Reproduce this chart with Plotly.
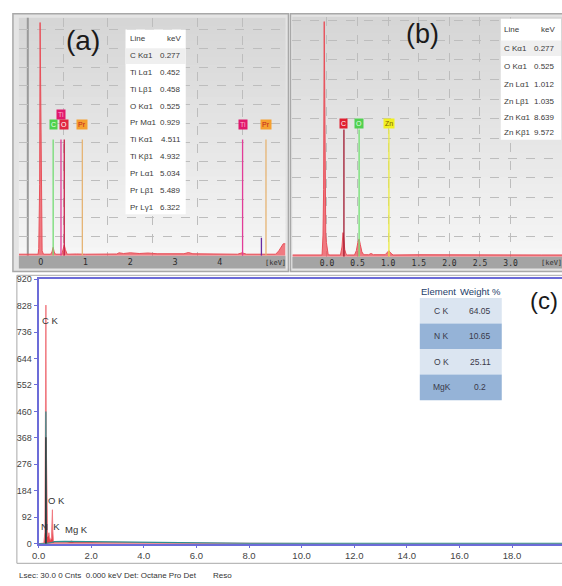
import plotly.graph_objects as go

W, H = 562, 586
def px(x): return x / W
def py(y): return 1 - y / H

# ---------------- Panel (a) data ----------------
a_kev = [-0.49, -0.06, -0.045, -0.035, -0.025, -0.015, -0.005, 0.005, 0.015, 0.03, 0.06,
         0.22, 0.25, 0.277, 0.30, 0.33, 0.47, 0.50, 0.525, 0.55, 0.59, 0.8, 1.0, 1.7, 1.75,
         1.85, 2.0, 2.2, 2.4, 2.6, 2.9, 3.2, 3.3, 3.4, 4.4, 4.5, 4.6, 5.25, 5.32, 5.38, 5.42, 5.47]
a_counts = [0.6, 0.6, 3, 28, 30, 98, 70, 30, 10, 2, 0.6,
            0.6, 1.5, 3.5, 1.5, 0.6, 0.6, 2.5, 4.5, 2.5, 0.6, 0.7, 0.6, 0.7, 1.2,
            0.9, 1.2, 0.9, 1.1, 0.8, 0.7, 0.8, 1.3, 0.8, 0.6, 1.2, 0.6, 0.6, 2.0, 4.0, 5.0, 5.0]
a_marker_kev = [0.277, 0.452, 0.525, 0.929, 4.511, 4.932, 5.034]
a_marker_top = [48.8, 48.8, 48.8, 48.8, 48.8, 7.5, 48.8]
a_marker_color = ["#74dc74", "#e23c98", "#c8204a", "#e6b474", "#e23c98", "#6a2aa0", "#e6b474"]
a_label_text = ["C", "Ti", "O", "Pr", "Ti", "Pr"]
a_label_kev = [0.277, 0.452, 0.525, 0.929, 4.511, 5.034]
a_label_y = [55, 59.5, 55, 55, 55, 55]
a_label_bg = ["#4fd14f", "#e0186c", "#e02840", "#f5a030", "#e0186c", "#f5a030"]
a_label_fg = ["#e8ffe8", "#ffb0d0", "#ffffff", "#c02020", "#ffb0d0", "#c02020"]
a_table_line = ["C Kα1", "Ti Lα1", "Ti Lβ1", "O Kα1", "Pr Mα1", "Ti Kα1", "Ti Kβ1",
                "Pr Lα1", "Pr Lβ1", "Pr Lγ1"]
a_table_kev = ["0.277", "0.452", "0.458", "0.525", "0.929", "4.511", "4.932",
               "5.034", "5.489", "6.322"]
a_ticks = [0, 1, 2, 3, 4]
a_cursor_kev = -0.29

# ---------------- Panel (b) data ----------------
b_kev = [-0.565, -0.08, -0.065, -0.055, -0.045, -0.038, -0.03, -0.02, -0.01, 0.005, 0.02, 0.05,
         0.22, 0.245, 0.262, 0.277, 0.29, 0.31, 0.33, 0.45, 0.48, 0.505, 0.525, 0.545, 0.57, 0.6,
         0.68, 0.72, 0.76, 0.95, 0.99, 1.012, 1.04, 1.08, 1.5, 2.0, 2.5, 3.0, 3.5, 3.84]
b_counts = [0.7, 0.7, 9, 28, 98, 60, 28, 9, 6, 2, 0.8, 0.7,
            0.7, 4, 10, 7, 3, 1.2, 0.7, 0.7, 2.5, 6, 7.4, 5, 2, 0.8,
            0.8, 1.3, 0.8, 0.8, 1.8, 2.5, 1.5, 0.7, 0.8, 0.7, 0.8, 0.7, 0.7, 0.7]
b_marker_kev = [0.277, 0.525, 1.012]
b_marker_top = [53, 53, 53]
b_marker_color = ["#a01830", "#70e070", "#ecec40"]
b_label_text = ["C", "O", "Zn"]
b_label_kev = [0.277, 0.525, 1.012]
b_label_y = [55.5, 55.5, 55.5]
b_label_bg = ["#e02030", "#50d050", "#f0f020"]
b_label_fg = ["#ffffff", "#e8ffe8", "#806000"]
b_table_line = ["C Kα1", "O Kα1", "Zn Lα1", "Zn Lβ1", "Zn Kα1", "Zn Kβ1"]
b_table_kev = ["0.277", "0.525", "1.012", "1.035", "8.639", "9.572"]
b_ticks = [0.0, 0.5, 1.0, 1.5, 2.0, 2.5, 3.0]

# ---------------- Panel (c) data ----------------
c_kev = [0.0, 0.20, 0.24, 0.26, 0.277, 0.29, 0.31, 0.34, 0.37, 0.392, 0.41, 0.45, 0.49,
         0.51, 0.525, 0.54, 0.56, 0.6, 0.8, 1.0, 1.15, 1.25, 1.35, 1.6, 2.0, 2.5, 3.0, 3.5,
         4.0, 5.0, 6.0, 8.0, 12.0, 19.9]
c_counts = [0, 2, 40, 320, 830, 380, 60, 25, 30, 38, 25, 12, 20,
            70, 118, 45, 12, 5, 4, 4, 6, 9, 6, 5, 6, 5, 5, 4,
            4, 3, 2, 1, 0, 0]
c_teal_kev = [0.0, 0.265, 0.277, 0.289, 0.5, 0.6, 1.0, 2.0, 3.0, 4.0, 5.0, 6.0, 8.0, 19.9]
c_teal_counts = [0, 0, 460, 0, 4, 7, 8, 7, 6, 5, 4, 2, 1, 1]
c_dark_kev = [0.268, 0.277, 0.286]
c_dark_counts = [0, 370, 0]
c_peak_text = ["C K", "O K", "N  K", "Mg K"]
c_peak_kev = [0.45, 0.68, 0.47, 1.45]
c_peak_cnt = [776, 150, 58, 48]
c_elements = ["C K", "N K", "O K", "MgK"]
c_weight = ["64.05", "10.65", "25.11", "0.2"]

SANS = "Liberation Sans, Arial, sans-serif"

fig = go.Figure()

fig.add_trace(go.Scatter(x=a_kev, y=a_counts, mode="lines", fill="tozeroy",
                         line=dict(color="#e8505a", width=1), fillcolor="rgba(238,80,90,0.75)",
                         xaxis="x", yaxis="y", showlegend=False, hoverinfo="skip"))
fig.add_trace(go.Scatter(x=b_kev, y=b_counts, mode="lines", fill="tozeroy",
                         line=dict(color="#e8505a", width=1), fillcolor="rgba(238,80,90,0.75)",
                         xaxis="x2", yaxis="y2", showlegend=False, hoverinfo="skip"))

for k, t, c in zip(a_marker_kev, a_marker_top, a_marker_color):
    fig.add_trace(go.Scatter(x=[k, k], y=[0, t], mode="lines", line=dict(color=c, width=1.3),
                             xaxis="x", yaxis="y", showlegend=False, hoverinfo="skip"))
for k, t, c in zip(b_marker_kev, b_marker_top, b_marker_color):
    fig.add_trace(go.Scatter(x=[k, k], y=[0, t], mode="lines", line=dict(color=c, width=1.3),
                             xaxis="x2", yaxis="y2", showlegend=False, hoverinfo="skip"))

fig.add_trace(go.Scatter(x=c_kev, y=c_counts, mode="lines", fill="tozeroy",
                         line=dict(color="#f07a80", width=1), fillcolor="rgba(225,30,40,0.85)",
                         xaxis="x3", yaxis="y3", showlegend=False, hoverinfo="skip"))
fig.add_trace(go.Scatter(x=c_teal_kev, y=c_teal_counts, mode="lines",
                         line=dict(color="#2a9090", width=1.2),
                         xaxis="x3", yaxis="y3", showlegend=False, hoverinfo="skip"))
fig.add_trace(go.Scatter(x=c_dark_kev, y=c_dark_counts, mode="lines",
                         line=dict(color="#303030", width=1.2),
                         xaxis="x3", yaxis="y3", showlegend=False, hoverinfo="skip"))

shapes = []
annotations = []

def ann(text, x, y, size, color, xanchor="center", family=SANS, **kw):
    d = dict(text=text, x=px(x), y=py(y), xref="paper", yref="paper", showarrow=False,
             xanchor=xanchor, yanchor="middle", font=dict(size=size, color=color, family=family))
    d.update(kw)
    annotations.append(d)

def grad_bands(x0, x1, y0, y1, n=30):
    for i in range(n):
        t = i / (n - 1)
        v = int(214 + (246 - 214) * t)
        ya = y0 + (y1 - y0) * i / n
        yb = y0 + (y1 - y0) * (i + 1) / n + 0.5
        shapes.append(dict(type="rect", xref="paper", yref="paper", x0=px(x0), x1=px(x1),
                           y0=py(yb), y1=py(ya), fillcolor=f"rgb({v},{v},{v})",
                           line=dict(width=0), layer="below"))

def rect(x0, x1, y0, y1, fill, line=None, layer="below"):
    shapes.append(dict(type="rect", xref="paper", yref="paper", x0=px(x0), x1=px(x1),
                       y0=py(y1), y1=py(y0), fillcolor=fill,
                       line=line if line else dict(width=0), layer=layer))

# panel frames
rect(6, 285, 9, 271, "#e4e4e4", dict(color="#a8a8a8", width=1.5))
rect(287, 566, 9, 271, "#e4e4e4", dict(color="#a8a8a8", width=1.5))
grad_bands(12, 282, 13, 255)
grad_bands(289, 562, 12, 256)
rect(12, 282, 255, 268, "#a4a4a4")
rect(289, 563, 256, 268, "#a4a4a4")
shapes.append(dict(type="line", xref="x", yref="paper", x0=a_cursor_kev, x1=a_cursor_kev,
                   y0=py(255), y1=py(13), line=dict(color="#9a9a9a", width=2), layer="below"))
rect(10, 566, 275, 568, "#ffffff", dict(color="#a8a8a8", width=1))

# table (a)
rect(120, 181, 25, 213, "#ffffff", layer="above")
rect(120, 181, 44, 60, "#efefef", layer="above")
row_y = [34 + 17.2 * i for i in range(len(a_table_line) + 1)]
ann("Line", 123, row_y[0], 8, "#3a3a3a", "left")
ann("keV", 178, row_y[0], 8, "#3a3a3a", "right")
for i, (l, k) in enumerate(zip(a_table_line, a_table_kev)):
    ann(l, 123, row_y[i + 1], 8, "#3a3a3a", "left")
    ann(k, 178, row_y[i + 1], 8, "#3a3a3a", "right")

# table (b)
rect(500, 561, 14, 137, "#ffffff", layer="above")
rect(500, 561, 36, 52, "#efefef", layer="above")
row_yb = [25, 44, 63, 81, 98, 114, 130]
ann("Line", 501, row_yb[0], 8, "#3a3a3a", "left")
ann("keV", 557, row_yb[0], 8, "#3a3a3a", "right")
for i, (l, k) in enumerate(zip(b_table_line, b_table_kev)):
    ann(l, 501, row_yb[i + 1], 8, "#3a3a3a", "left")
    ann(k, 557, row_yb[i + 1], 8, "#3a3a3a", "right")

# element label boxes
for t, k, y, bg, fg in zip(a_label_text, a_label_kev, a_label_y, a_label_bg, a_label_fg):
    annotations.append(dict(text=t, x=k, y=y, xref="x", yref="y", showarrow=False, yanchor="middle",
                            bgcolor=bg, borderpad=1, font=dict(size=7, color=fg, family=SANS)))
for t, k, y, bg, fg in zip(b_label_text, b_label_kev, b_label_y, b_label_bg, b_label_fg):
    annotations.append(dict(text=t, x=k, y=y, xref="x2", yref="y2", showarrow=False, yanchor="middle",
                            bgcolor=bg, borderpad=1, font=dict(size=7, color=fg, family=SANS)))

ann("[keV]", 272, 262, 7, "#303030", family="DejaVu Sans Mono")
ann("[keV]", 551, 262, 7, "#303030", family="DejaVu Sans Mono")

# panel letters
ann("(a)", 77, 36, 28, "#1a1a1a")
ann("(b)", 421, 30, 27, "#1a1a1a")
ann("(c)", 544, 301, 24, "#1a1a1a")

# peak labels (c)
for t, k, c in zip(c_peak_text, c_peak_kev, c_peak_cnt):
    annotations.append(dict(text=t, x=k, y=c, xref="x3", yref="y3", showarrow=False, yanchor="middle",
                            font=dict(size=9.5, color="#333333", family=SANS)))

# table (c)
row_c = [298, 324, 350, 376, 402]
for i in range(4):
    rect(418, 501, row_c[i], row_c[i + 1], "#dbe5f1" if i % 2 == 0 else "#95b3d7", layer="above")
    yc = (row_c[i] + row_c[i + 1]) / 2
    ann(c_elements[i], 440, yc, 8.5, "#3a3a4a")
    ann(c_weight[i], 479, yc, 8.5, "#3a3a4a")
ann("Element", 437, 291, 9.5, "#24406a")
ann("Weight %", 479, 291, 9.5, "#24406a")

# status bar
ann("Lsec: 30.0 0 Cnts  0.000 keV Det: Octane Pro Det", 10, 580, 8, "#333333", "left")
ann("Reso", 207, 580, 8, "#333333", "left")

grid_a = dict(showgrid=True, gridcolor="#bdbdbd", griddash="dash", gridwidth=1)

fig.update_layout(
    width=W, height=H, margin=dict(l=0, r=0, t=0, b=0),
    paper_bgcolor="#ffffff", plot_bgcolor="rgba(0,0,0,0)",
    font=dict(family=SANS, color="#333333"),
    shapes=shapes, annotations=annotations, showlegend=False,
    xaxis=dict(domain=[px(12), px(282)], range=[-0.49, 5.47], anchor="y",
               tickvals=a_ticks, ticktext=[str(v) for v in a_ticks], ticks="",
               showgrid=False, zeroline=False, showline=False,
               tickfont=dict(size=8, color="#2a2a2a", family="DejaVu Sans"),
               minor=dict(tick0=0.5, dtick=1, ticks="", **grid_a)),
    yaxis=dict(domain=[py(255), py(13)], range=[0, 100], anchor="x", dtick=7.93,
               showticklabels=False, zeroline=False, showline=False, ticks="", **grid_a),
    xaxis2=dict(domain=[px(289), 1.0], range=[-0.565, 3.84], anchor="y2",
                tickvals=b_ticks, ticktext=[f"{v:.1f}" for v in b_ticks], ticks="",
                zeroline=False, showline=False,
                tickfont=dict(size=8, color="#2a2a2a", family="DejaVu Sans Mono"), **grid_a),
    yaxis2=dict(domain=[py(256), py(12)], range=[0, 100], anchor="x2", dtick=8.2,
                showticklabels=False, zeroline=False, showline=False, ticks="", **grid_a),
    xaxis3=dict(domain=[px(32), 1.0], range=[0, 19.9], anchor="y3", dtick=2, tick0=0,
                tickformat=".1f", showgrid=False, zeroline=False, showline=True, mirror=True,
                linecolor="#6c6cd8", linewidth=2, ticks="outside", ticklen=2, tickcolor="#6c6cd8",
                tickfont=dict(size=9.5, color="#444444", family=SANS)),
    yaxis3=dict(domain=[py(548), py(279)], range=[0, 920], anchor="x3", dtick=92, tick0=0,
                showgrid=False, zeroline=False, showline=True, linecolor="#6c6cd8", linewidth=2,
                ticks="outside", ticklen=3, tickcolor="#6c6cd8",
                tickfont=dict(size=9, color="#444444", family=SANS)),
)

fig.write_html("out.html", config={"displayModeBar": False},
               post_script="document.body.style.margin='0px';")
